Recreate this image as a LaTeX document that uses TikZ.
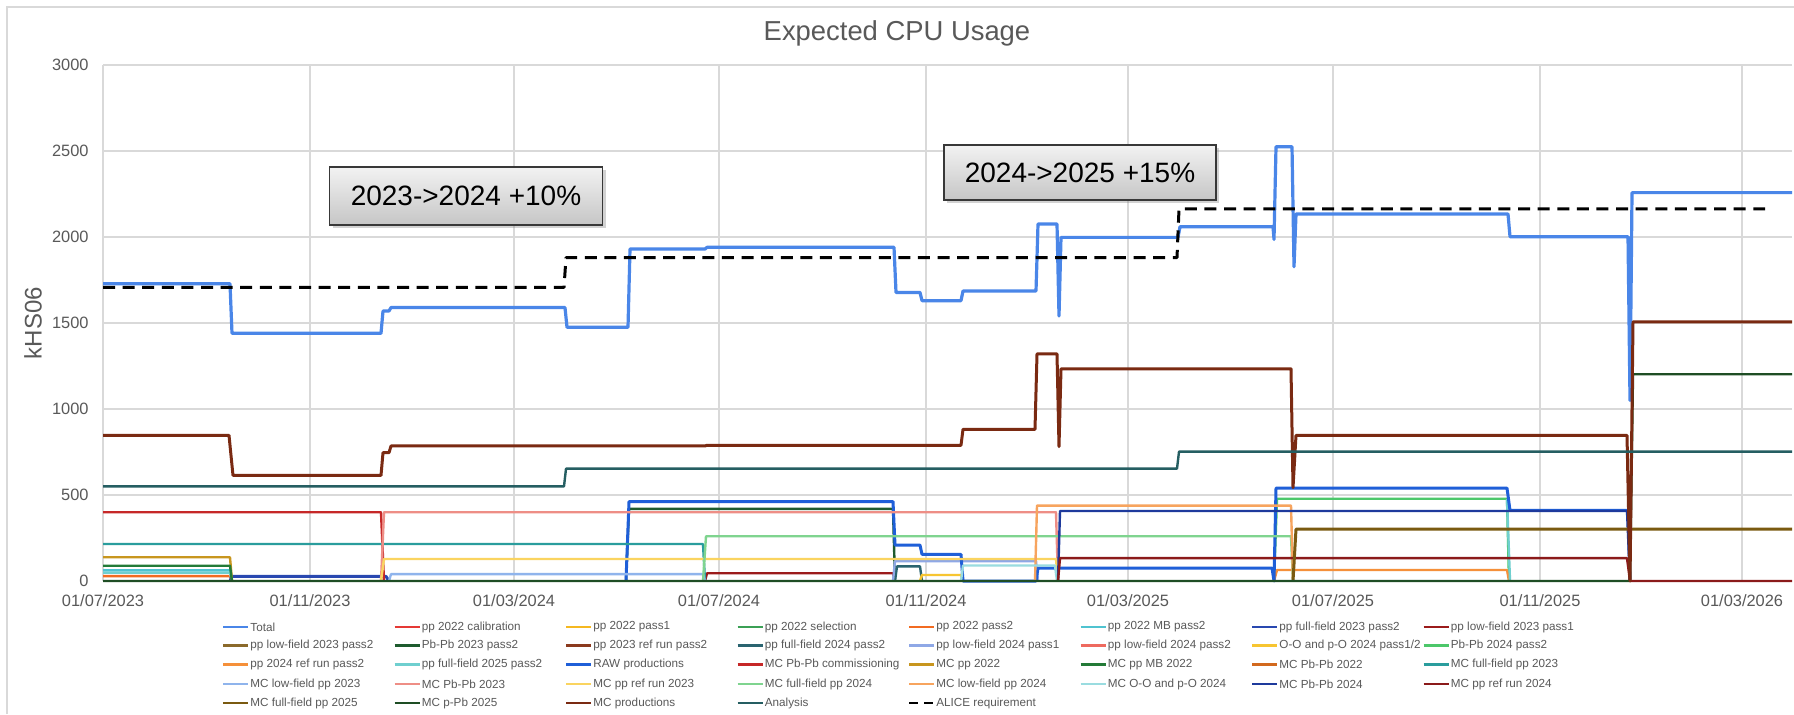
\documentclass[tikz,border=0pt]{standalone}
\usepackage{fontspec}
\setmainfont{Liberation Sans}
\usetikzlibrary{shadows}

\definecolor{txtgray}{HTML}{595959}
\definecolor{gridgray}{HTML}{D9D9D9}
\definecolor{cTotal}{HTML}{4A86E8}
\definecolor{cCalib}{HTML}{E53935}
\definecolor{cPassOne}{HTML}{F5B820}
\definecolor{cSel}{HTML}{3BA055}
\definecolor{cPassTwo}{HTML}{F26B21}
\definecolor{cMBPass}{HTML}{4FC3D0}
\definecolor{cFFtwentythree}{HTML}{2948B0}
\definecolor{cLFa}{HTML}{9B1B1B}
\definecolor{cLFb}{HTML}{8B6A2B}
\definecolor{cPbPbtwentythree}{HTML}{1E5B2E}
\definecolor{cReftwentythree}{HTML}{8B3A1E}
\definecolor{cFFtwentyfour}{HTML}{2A6470}
\definecolor{cLFtwentyfoura}{HTML}{8FA8E6}
\definecolor{cLFtwentyfourb}{HTML}{EE6A5F}
\definecolor{cOOtwentyfour}{HTML}{F7C531}
\definecolor{cPbPbtwentyfour}{HTML}{4CC76A}
\definecolor{cReftwentyfour}{HTML}{F5903A}
\definecolor{cFFtwentyfive}{HTML}{6FCFCF}
\definecolor{cRaw}{HTML}{1F5FD8}
\definecolor{cComm}{HTML}{C62828}
\definecolor{cMCtwentytwo}{HTML}{C8961E}
\definecolor{cMCMB}{HTML}{237A37}
\definecolor{cMCPbPbtwentytwo}{HTML}{D2691E}
\definecolor{cMCFFtwentythree}{HTML}{2A9D9D}
\definecolor{cMCLFtwentythree}{HTML}{8FB4EC}
\definecolor{cMCPbPbtwentythree}{HTML}{EE8E86}
\definecolor{cMCReftwentythree}{HTML}{FAD460}
\definecolor{cMCFFtwentyfour}{HTML}{7FD48F}
\definecolor{cMCLFtwentyfour}{HTML}{F7A45E}
\definecolor{cMCOOtwentyfour}{HTML}{9ADCE0}
\definecolor{cMCPbPbtwentyfour}{HTML}{1E3A9C}
\definecolor{cMCReftwentyfour}{HTML}{8B1A1A}
\definecolor{cMCFFtwentyfive}{HTML}{7A5A10}
\definecolor{cMCpPb}{HTML}{1E4D24}
\definecolor{cMCprod}{HTML}{7A2A12}
\definecolor{cAna}{HTML}{255E62}

\tikzset{
  grid line/.style={gridgray, line width=0.55pt},
  ser/.style={line width=1.2pt, line join=round},
  ticklab/.style={text=txtgray, font=\fontsize{8.2}{9}\selectfont, inner sep=0pt},
  lgtext/.style={text=txtgray, font=\fontsize{5.85}{7}\selectfont, inner sep=0pt, anchor=west},
  notebox/.style={draw=black!78, line width=0.8pt, top color=gray!10, bottom color=gray!45,
    drop shadow={opacity=0.35, shadow xshift=1.5pt, shadow yshift=-1.5pt},
    font=\fontsize{14}{17}\selectfont, inner sep=0pt},
}

% legend entry: x, y, colour, node name, text
\newcommand\lgd[5]{%
  \draw[#3, line width=1.3pt] (#1,#2) -- (#1+25,#2);
  \node[lgtext] (#4) at (#1+27,#2) {#5};
}

\begin{document}
\begin{tikzpicture}[x=0.5pt, y=-0.5pt]
\useasboundingbox (0,0) rectangle (1794,714);
\fill[white] (0,0) rectangle (1794,714);
\draw[gridgray, line width=0.6pt] (7,714) -- (7,7) -- (1794,7);

\node[text=txtgray, font=\fontsize{13.7}{16}\selectfont] (title) at (897,33) {Expected CPU Usage};
\node[text=txtgray, font=\fontsize{12}{14}\selectfont, rotate=90] (ylab) at (33,323) {kHS06};

% plot area: x in pixels, y in kHS06
\begin{scope}[shift={(0,581)}, x=0.5pt, y=0.086pt]
  \foreach \v in {500,1000,...,3000}
    \draw[grid line] (103,\v) -- (1792,\v);
  \foreach \d in {103,310,514,719,926,1128,1333,1540,1742}
    \draw[grid line] (\d,0) -- (\d,3000);
  \draw[grid line] (103,0) -- (1792,0);

  \foreach \v in {0,500,1000,...,3000}
    \node[ticklab, anchor=east] (yt\v) at (89,\v) {\v};
  \foreach \d/\t [count=\i] in {103/{01/07/2023},310/{01/11/2023},514/{01/03/2024},719/{01/07/2024},926/{01/11/2024},1128/{01/03/2025},1333/{01/07/2025},1540/{01/11/2025},1742/{01/03/2026}}
    \node[ticklab] (xt\i) at (\d,-116) {\t};

  % series
  \draw[ser, cTotal, line width=1.6pt] (103,1728) -- (230,1728) -- (232,1440) -- (381,1440) -- (383,1570) -- (389,1570) -- (391,1590) -- (565,1590) -- (567,1475) -- (628,1475) -- (630,1930) -- (705,1930) -- (707,1940) -- (894,1940) -- (896,1678) -- (920,1678) -- (922,1630) -- (961,1630) -- (963,1686) -- (1036,1686) -- (1038,2076) -- (1057,2076) -- (1059,1541) -- (1061,1998) -- (1178,1998) -- (1180,2060) -- (1273,2060) -- (1274,1986) -- (1276,2525) -- (1292,2525) -- (1294,1827) -- (1296,2134) -- (1508,2134) -- (1510,2002) -- (1628,2002) -- (1630,1050) -- (1632,2258) -- (1792,2258);
  \draw[ser, cPassTwo] (103,28) -- (230,28) -- (232,0);
  \draw[ser, cMBPass] (103,62) -- (230,62) -- (232,0);
  \draw[ser, cFFtwentyfive] (103,48) -- (230,48) -- (232,0);
  \draw[ser, cFFtwentythree, line width=1.5pt] (230,0) -- (232,27) -- (386,27) -- (389,0);
  \draw[ser, cLFa] (705,0) -- (707,45) -- (893,45) -- (895,0);
  \draw[ser, cPbPbtwentythree] (626,0) -- (629,419) -- (893,419) -- (895,0);
  \draw[ser, cFFtwentyfour] (895,0) -- (897,85) -- (920,85) -- (922,0);
  \draw[ser, cLFtwentyfoura] (893,0) -- (895,116) -- (1036,116) -- (1038,0);
  \draw[ser, cOOtwentyfour] (920,0) -- (922,35) -- (961,35) -- (963,0);
  \draw[ser, cPbPbtwentyfour] (1274,0) -- (1277,478) -- (1507,478) -- (1509,0);
  \draw[ser, cReftwentyfour] (1274,0) -- (1277,64) -- (1507,64) -- (1509,0);
  \draw[ser, cFFtwentyfive] (1507,476) -- (1510,0);
  \draw[ser, cRaw, line width=1.5pt] (626,0) -- (629,462) -- (893,462) -- (895,209) -- (920,209) -- (922,155) -- (961,155) -- (963,0) -- (1036,0) -- (1038,75) -- (1272,75) -- (1274,0) -- (1276,540) -- (1507,540) -- (1510,410) -- (1628,410) -- (1630,0);
  \draw[ser, cComm] (103,400) -- (381,400) -- (384,0);
  \draw[ser, cMCtwentytwo] (103,138) -- (230,138) -- (232,0);
  \draw[ser, cMCMB] (103,89) -- (230,89) -- (232,0);
  \draw[ser, cMCFFtwentythree] (103,215) -- (703,215) -- (705,0);
  \draw[ser, cMCLFtwentythree] (389,0) -- (391,40) -- (703,40) -- (705,0);
  \draw[ser, cMCPbPbtwentythree] (381,0) -- (384,400) -- (1056,400) -- (1058,0);
  \draw[ser, cMCReftwentythree] (381,0) -- (384,128) -- (1056,128) -- (1058,0);
  \draw[ser, cMCFFtwentyfour] (703,0) -- (706,260) -- (1291,260) -- (1293,0);
  \draw[ser, cMCLFtwentyfour] (1035,0) -- (1037,438) -- (1291,438) -- (1293,0);
  \draw[ser, cMCOOtwentyfour] (961,0) -- (963,90) -- (1055,90) -- (1057,0);
  \draw[ser, cMCPbPbtwentyfour] (1058,0) -- (1060,407) -- (1627,407) -- (1630,0);
  \draw[ser, cMCReftwentyfour] (1058,0) -- (1060,133) -- (1627,133) -- (1630,0) -- (1792,0);
  \draw[ser, cMCFFtwentyfive, line width=1.5pt] (1293,0) -- (1296,302) -- (1792,302);
  \draw[ser, cMCpPb] (103,0) -- (1630,0) -- (1633,1202) -- (1792,1202);
  \draw[ser, cMCprod, line width=1.5pt] (103,847) -- (229,847) -- (233,614) -- (381,614) -- (383,746) -- (389,746) -- (391,785) -- (705,785) -- (707,789) -- (961,789) -- (963,882) -- (1035,882) -- (1037,1320) -- (1057,1320) -- (1059,781) -- (1061,1234) -- (1291,1234) -- (1293,543) -- (1296,847) -- (1627,847) -- (1630,0) -- (1633,1507) -- (1792,1507);
  \draw[ser, cAna] (103,550) -- (564,550) -- (566,653) -- (1177,653) -- (1179,752) -- (1792,752);
  \draw[ser, black, line width=1.5pt, dash pattern=on 6pt off 3.8pt] (103,1707) -- (564,1707) -- (566,1880) -- (1177,1880) -- (1179,2163) -- (1765,2163);
\end{scope}

% annotation boxes
\node[notebox, minimum width=136.5pt, minimum height=29pt] (boxa) at (466,196) {2023->2024 +10\%};
\node[notebox, minimum width=136pt, minimum height=27.5pt] (boxb) at (1080,172.5) {2024->2025 +15\%};

% legend
\lgd{223}{627}{cTotal}{l1}{Total}
\lgd{394.5}{627}{cCalib}{l2}{pp 2022 calibration}
\lgd{566}{627}{cPassOne}{l3}{pp 2022 pass1}
\lgd{737.5}{627}{cSel}{l4}{pp 2022 selection}
\lgd{909}{627}{cPassTwo}{l5}{pp 2022 pass2}
\lgd{1080.5}{627}{cMBPass}{l6}{pp 2022 MB pass2}
\lgd{1252}{627}{cFFtwentythree}{l7}{pp full-field 2023 pass2}
\lgd{1423.5}{627}{cLFa}{l8}{pp low-field 2023 pass1}

\lgd{223}{645.5}{cLFb}{l9}{pp low-field 2023 pass2}
\lgd{394.5}{645.5}{cPbPbtwentythree}{l10}{Pb-Pb 2023 pass2}
\lgd{566}{645.5}{cReftwentythree}{l11}{pp 2023 ref run pass2}
\lgd{737.5}{645.5}{cFFtwentyfour}{l12}{pp full-field 2024 pass2}
\lgd{909}{645.5}{cLFtwentyfoura}{l13}{pp low-field 2024 pass1}
\lgd{1080.5}{645.5}{cLFtwentyfourb}{l14}{pp low-field 2024 pass2}
\lgd{1252}{645.5}{cOOtwentyfour}{l15}{O-O and p-O 2024 pass1/2}
\lgd{1423.5}{645.5}{cPbPbtwentyfour}{l16}{Pb-Pb 2024 pass2}

\lgd{223}{664.5}{cReftwentyfour}{l17}{pp 2024 ref run pass2}
\lgd{394.5}{664.5}{cFFtwentyfive}{l18}{pp full-field 2025 pass2}
\lgd{566}{664.5}{cRaw}{l19}{RAW productions}
\lgd{737.5}{664.5}{cComm}{l20}{MC Pb-Pb commissioning}
\lgd{909}{664.5}{cMCtwentytwo}{l21}{MC pp 2022}
\lgd{1080.5}{664.5}{cMCMB}{l22}{MC pp MB 2022}
\lgd{1252}{664.5}{cMCPbPbtwentytwo}{l23}{MC Pb-Pb 2022}
\lgd{1423.5}{664.5}{cMCFFtwentythree}{l24}{MC full-field pp 2023}

\lgd{223}{684}{cMCLFtwentythree}{l25}{MC low-field pp 2023}
\lgd{394.5}{684}{cMCPbPbtwentythree}{l26}{MC Pb-Pb 2023}
\lgd{566}{684}{cMCReftwentythree}{l27}{MC pp ref run 2023}
\lgd{737.5}{684}{cMCFFtwentyfour}{l28}{MC full-field pp 2024}
\lgd{909}{684}{cMCLFtwentyfour}{l29}{MC low-field pp 2024}
\lgd{1080.5}{684}{cMCOOtwentyfour}{l30}{MC O-O and p-O 2024}
\lgd{1252}{684}{cMCPbPbtwentyfour}{l31}{MC Pb-Pb 2024}
\lgd{1423.5}{684}{cMCReftwentyfour}{l32}{MC pp ref run 2024}

\lgd{223}{703}{cMCFFtwentyfive}{l33}{MC full-field pp 2025}
\lgd{394.5}{703}{cMCpPb}{l34}{MC p-Pb 2025}
\lgd{566}{703}{cMCprod}{l35}{MC productions}
\lgd{737.5}{703}{cAna}{l36}{Analysis}
\draw[black, line width=1.3pt, dash pattern=on 4.5pt off 3pt] (909,703) -- (934,703);
\node[lgtext] (l37) at (936,703) {ALICE requirement};
\end{tikzpicture}
\end{document}
